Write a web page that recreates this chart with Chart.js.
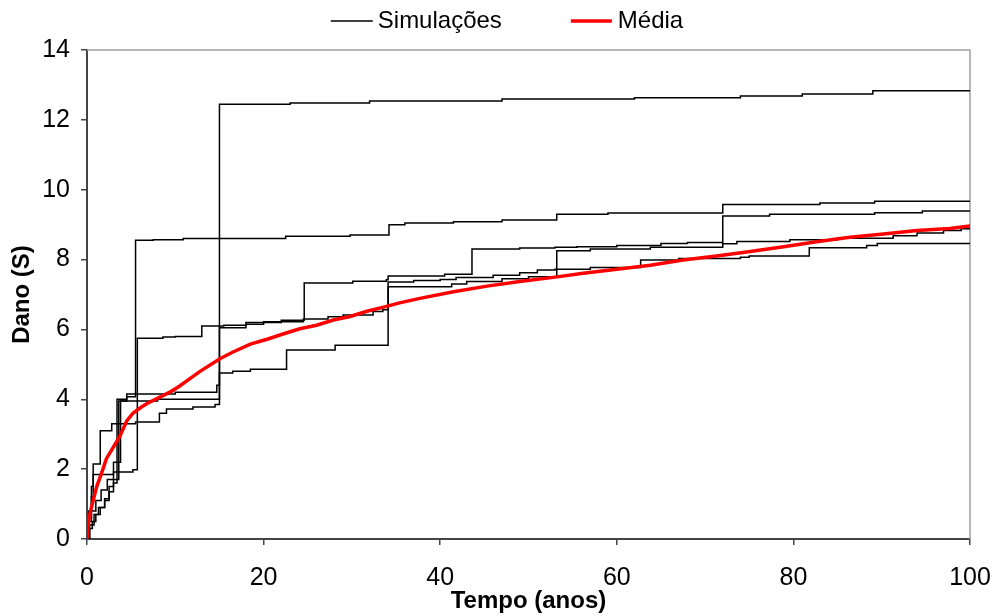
<!DOCTYPE html>
<html>
<head>
<meta charset="utf-8">
<script src="https://cdn.jsdelivr.net/npm/chart.js@4.4.1/dist/chart.umd.min.js"></script>
<style>
  body { margin: 0; background: #fff; }
  canvas { display: block; }
</style>
</head>
<body>
<canvas id="myChart" width="992" height="616"></canvas>
<script>
// legend / axis texts
const seriesNames = ['Simulações', 'Média'];
const xTitle = 'Tempo (anos)';
const yTitle = 'Dano (S)';
const xTicks = [0, 20, 40, 60, 80, 100];
const yTicks = [0, 2, 4, 6, 8, 10, 12, 14];

// simulations: [time where the step happens, new damage value]
const sim1 = [[0,0],[0.2,0.8],[0.5,1.5],[0.7,2.15],[1.5,3.1],[2.8,3.3],[5.5,3.35],[8.2,3.6],[9,3.72],[12,3.78],[14.5,3.85],[15,12.45],[23,12.48],[32,12.54],[47,12.6],[62,12.63],[74,12.68],[81,12.74],[89,12.83],[100,12.85]];
const sim2 = [[0,0],[0.3,0.4],[0.8,0.7],[1.3,0.9],[2,1.15],[2.5,1.35],[3,1.6],[3.4,4.0],[4.5,4.07],[5.5,8.55],[7.5,8.57],[10.9,8.6],[22.5,8.67],[29.8,8.7],[34.2,9.0],[36,9.05],[41.5,9.08],[47,9.13],[53.2,9.3],[59,9.33],[72,9.58],[83,9.62],[89.2,9.67],[100,9.67]];
const sim3 = [[0,0],[0.2,0.6],[0.5,1.2],[0.7,1.85],[3,1.92],[5.2,1.98],[5.7,5.75],[8.6,5.78],[10,5.8],[13,6.1],[15.5,6.12],[18,6.2],[22,6.26],[24.6,7.33],[30.1,7.38],[33.9,7.42],[34.1,7.53],[40.5,7.58],[43.6,8.3],[49,8.33],[53,8.35],[55.5,8.37],[60,8.4],[65,8.46],[68,8.49],[72,9.25],[77.3,9.3],[89.2,9.34],[94.6,9.39],[100,9.39]];
const sim4 = [[0,0],[0.3,0.3],[0.6,0.5],[1,0.7],[1.5,0.9],[2,1.1],[2.5,1.5],[3,1.7],[3.6,3.95],[4.5,4.15],[10,4.2],[14.7,4.4],[15,4.75],[16.5,4.8],[18.5,4.86],[22.6,5.41],[28.1,5.55],[34.1,7.22],[41.3,7.3],[43,7.37],[47,7.45],[50,7.51],[53.2,8.25],[57,8.3],[63.8,8.35],[72,8.45],[73.6,8.52],[79.6,8.57],[85,8.61],[91.3,8.68],[94,8.76],[97,8.83],[99,8.88],[100,8.9]];
const sim5 = [[0,0],[0.2,0.5],[0.5,0.8],[1,1.1],[1.6,1.4],[2.3,1.7],[3,2.2],[3.8,3.95],[8,4.0],[15,6.05],[18,6.15],[20,6.22],[24.5,6.3],[27.3,6.36],[29,6.41],[32.4,6.51],[33.5,6.56],[34.1,7.36],[37,7.4],[40,7.43],[41.8,7.49],[46,7.55],[49,7.62],[51,7.7],[53,7.72],[57,7.77],[62.7,7.99],[67,8.03],[74,8.07],[75,8.1],[81.8,8.34],[88.3,8.4],[89.5,8.46],[100,8.46]];

// mean curve
const meanX = [0, 0.2, 0.4, 0.75, 1.1, 1.6, 2.2, 3.0, 3.7, 4.5, 5.2, 6.0, 6.8, 8.3, 9.5, 10.5, 11.7, 12.8, 15.1, 16.6, 18.5, 20.4, 22.2, 24.1, 26.0, 27.9, 29.8, 31.7, 33.6, 35.4, 37.7, 41.5, 45.3, 49.0, 52.8, 56.2, 60.0, 63.8, 67.5, 71.3, 75.1, 78.9, 82.6, 86.4, 90.2, 94.0, 97.7, 100];
const meanY = [0, 0.55, 0.8, 1.15, 1.5, 1.85, 2.3, 2.64, 2.93, 3.38, 3.6, 3.75, 3.88, 4.07, 4.22, 4.38, 4.6, 4.8, 5.17, 5.36, 5.58, 5.72, 5.87, 6.02, 6.12, 6.27, 6.37, 6.52, 6.64, 6.76, 6.89, 7.08, 7.24, 7.37, 7.49, 7.61, 7.72, 7.84, 7.99, 8.1, 8.23, 8.37, 8.51, 8.64, 8.73, 8.83, 8.89, 8.96];

const FONT = '"Liberation Sans", Arial, sans-serif';

const toPts = arr => arr.map(p => ({ x: p[0], y: p[1] }));

const simDataset = (arr) => ({
  label: seriesNames[0],
  data: toPts(arr),
  borderColor: '#000',
  borderWidth: 1.5,
  stepped: 'before',
  pointRadius: 0,
  fill: false
});

// box lines on top and right of plot area
const framePlugin = {
  id: 'frame',
  beforeDatasetsDraw(chart) {
    const { ctx, chartArea: a } = chart;
    ctx.save();
    ctx.strokeStyle = '#a0a0a0';
    ctx.lineWidth = 1.5;
    ctx.beginPath();
    ctx.moveTo(a.left, a.top);
    ctx.lineTo(a.right, a.top);
    ctx.lineTo(a.right, a.bottom);
    ctx.stroke();
    ctx.restore();
  }
};

// legend drawn above the plot, with the wide gap of the original
const legendPlugin = {
  id: 'topLegend',
  afterDraw(chart) {
    const ctx = chart.ctx;
    ctx.save();
    ctx.font = '24px ' + FONT;
    ctx.textBaseline = 'middle';
    ctx.fillStyle = '#000';
    const w1 = ctx.measureText(seriesNames[0]).width;
    const w2 = ctx.measureText(seriesNames[1]).width;
    const total = 42 + 5 + w1 + 69 + 41 + 6 + w2;
    let x = 507 - total / 2;
    const y = 21;
    ctx.strokeStyle = '#000';
    ctx.lineWidth = 1.5;
    ctx.beginPath(); ctx.moveTo(x, y); ctx.lineTo(x + 42, y); ctx.stroke();
    x += 47;
    ctx.fillText(seriesNames[0], x, y);
    x += w1 + 69;
    ctx.strokeStyle = '#ff0000';
    ctx.lineWidth = 3.5;
    ctx.beginPath(); ctx.moveTo(x, y); ctx.lineTo(x + 41, y); ctx.stroke();
    x += 47;
    ctx.fillText(seriesNames[1], x, y);
    ctx.restore();
  }
};

const ctx = document.getElementById('myChart');

new Chart(ctx, {
  type: 'line',
  data: {
    datasets: [
      {
        label: seriesNames[1],
        data: meanX.map((v, i) => ({ x: v, y: meanY[i] })),
        borderColor: '#ff0000',
        borderWidth: 3.5,
        pointRadius: 0,
        fill: false,
        tension: 0
      },
      simDataset(sim1),
      simDataset(sim2),
      simDataset(sim3),
      simDataset(sim4),
      simDataset(sim5)
    ]
  },
  options: {
    responsive: false,
    animation: false,
    devicePixelRatio: 1,
    layout: { padding: { top: 50, right: 22, left: 0, bottom: 0 } },
    plugins: {
      legend: { display: false },
      tooltip: { enabled: false }
    },
    scales: {
      x: {
        type: 'linear',
        min: 0,
        max: 100,
        afterBuildTicks: s => { s.ticks = xTicks.map(v => ({ value: v })); },
        afterFit: s => { s.height = 77; s.paddingLeft = 0; s.paddingRight = 0; },
        grid: { drawOnChartArea: false, drawTicks: true, tickLength: 6, color: '#444', lineWidth: 1.5 },
        border: { color: '#444', width: 2 },
        ticks: { color: '#000', padding: 18, maxRotation: 0, font: { family: FONT, size: 25 } },
        title: {
          display: true,
          text: xTitle,
          color: '#000',
          padding: { top: 0, bottom: 0 },
          font: { family: FONT, size: 24, weight: 'bold' }
        }
      },
      y: {
        type: 'linear',
        min: 0,
        max: 14,
        afterBuildTicks: s => { s.ticks = yTicks.map(v => ({ value: v })); },
        afterFit: s => { s.width = 87; },
        grid: { drawOnChartArea: false, drawTicks: true, tickLength: 6, color: '#444', lineWidth: 1.5 },
        border: { color: '#444', width: 2 },
        ticks: { color: '#000', padding: 11, font: { family: FONT, size: 25 } },
        title: {
          display: true,
          text: yTitle,
          color: '#000',
          padding: { top: 8, bottom: 0 },
          font: { family: FONT, size: 24, weight: 'bold' }
        }
      }
    }
  },
  plugins: [framePlugin, legendPlugin]
});
</script>
</body>
</html>
